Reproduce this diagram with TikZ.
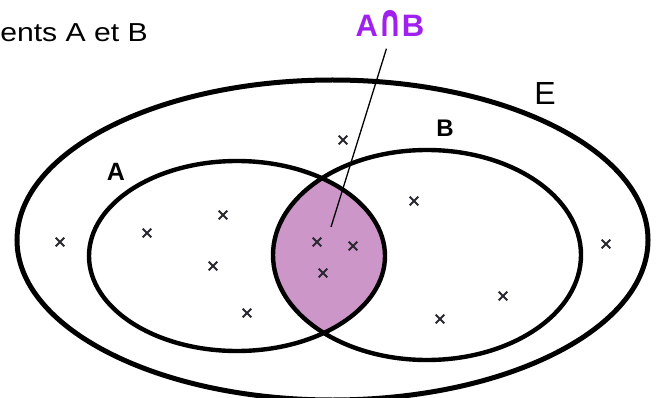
\documentclass[tikz,border=0pt]{standalone}
\usepackage{fontspec}
\setmainfont{Liberation Sans}
\newfontfamily\capfont{DejaVu Sans}
\usepackage{tikz}
\usetikzlibrary{positioning, calc}
\usepackage{xcolor}
\definecolor{interfill}{RGB}{205, 150, 200}
\definecolor{labpurple}{RGB}{160, 32, 240}
\definecolor{markgray}{RGB}{40, 40, 48}

\begin{document}
\begin{tikzpicture}[x=1pt, y=-1pt,
  setline/.style={draw=black, line width=4.4pt},
  outerline/.style={draw=black, line width=5pt},
  setlabel/.style={inner sep=0pt, font=\fontsize{25}{28}\selectfont\bfseries},
  xmark/.style={draw=markgray, line width=2pt},
  pinline/.style={draw=black, line width=1.3pt, shorten <=12pt}
]
  \useasboundingbox (0,0) rectangle (661,398);

  % shaded intersection
  \begin{scope}
    \clip (237,256) ellipse [x radius=148pt, y radius=95pt];
    \fill[interfill] (427,255) ellipse [x radius=154pt, y radius=105pt];
  \end{scope}

  \draw[outerline] (332.5,240) ellipse [x radius=315.5pt, y radius=160pt];
  \draw[setline] (237,256) ellipse [x radius=148pt, y radius=95pt];
  \draw[setline] (427,255) ellipse [x radius=154pt, y radius=105pt];

  % elements
  \foreach \p in {(60,242), (147,233), (223,215), (213,266), (247,313),
                  (317,242), (353,246), (323,273),
                  (414,201), (440,319), (503,296), (606,244), (343,140)}
    \draw[xmark] \p +(-4.3,-4.3) -- +(4.3,4.3) +(-4.3,4.3) -- +(4.3,-4.3);

  \node[anchor=base east, inner sep=0pt, font=\fontsize{26}{30}\selectfont]
    (title) at (148,42) {\scalebox{1.16}[1]{ents A et B}};

  \node[setlabel] (labA) at (116,172) {A};
  \node[setlabel, font=\fontsize{24}{28}\selectfont\bfseries] (labB) at (445,128.5) {B};
  \node[inner sep=0pt, font=\fontsize{32}{36}\selectfont] (labE) at (545,93.5) {E};
  \node[setlabel, anchor=base, text=labpurple, font=\fontsize{31}{34}\selectfont\bfseries]
    (labAB) at (390,37) {A{\capfont\bfseries\scalebox{0.95}[1.45]{∩}}B};

  \coordinate (pin) at (331,227);
  \draw[pinline] (labAB.south) -- (pin);
\end{tikzpicture}
\end{document}
